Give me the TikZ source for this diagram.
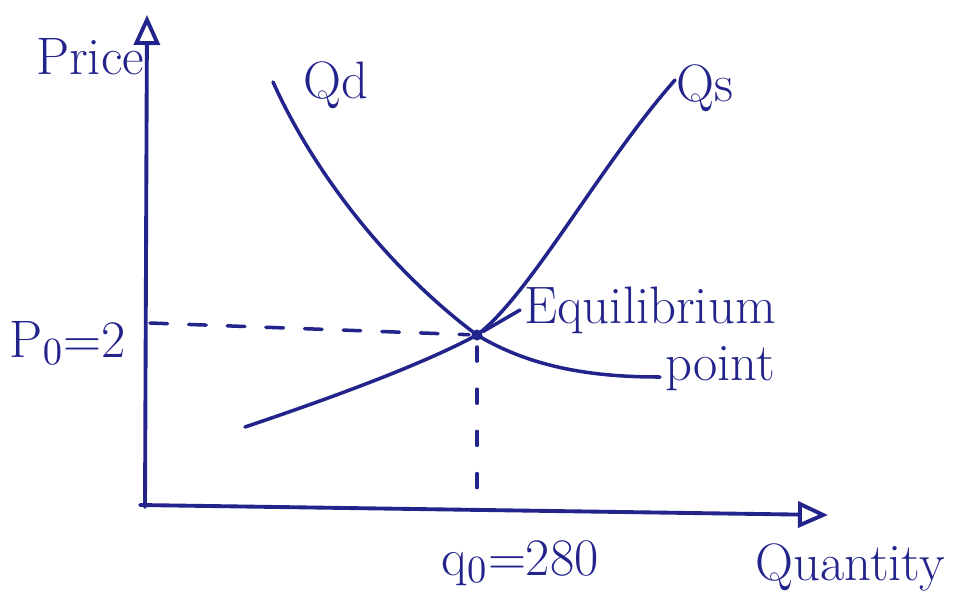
\documentclass[tikz,border=0pt]{standalone}
\usetikzlibrary{arrows.meta, positioning}
\definecolor{ink}{HTML}{23238C}

\tikzset{
  axis/.style={ink, line width=1.1pt, -{Triangle[open, length=3mm, width=2.6mm]}},
  curve/.style={ink, line width=1pt},
  guide/.style={ink, line width=1pt, dash pattern=on 5pt off 6pt},
  guidev/.style={ink, line width=1pt, dash pattern=on 4pt off 8pt},
  hand/.style={ink, font=\fontsize{15}{18}\selectfont, inner sep=1pt},
}

\begin{document}
\begin{tikzpicture}[line cap=round]
\useasboundingbox (0,0) rectangle (9.61,6.05);

% --- Axes ---
\coordinate (origin) at (1.45,1.00);
\coordinate (ytop) at (1.47,5.90);
\coordinate (xend) at (8.28,0.90);
\draw[axis] (1.45,0.98) -- (ytop);
\draw[axis] (1.40,1.00) -- (xend);

% Equilibrium point
\coordinate (eq) at (4.77,2.70);

% --- Demand and supply curves ---
\draw[curve] (2.73,5.23) .. controls (3.15,4.30) and (3.90,3.35) .. (eq)
  .. controls (5.35,2.35) and (6.00,2.28) .. (6.60,2.28);
\draw[curve] (2.45,1.78) .. controls (3.40,2.10) and (4.25,2.42) .. (eq)
  .. controls (5.30,3.10) and (6.00,4.40) .. (6.75,5.25);

\fill[ink] (eq) circle (0.055);

% Dashed guides to the axes
\draw[guide, shorten >=0.08cm] (1.50,2.82) -- (eq);
\draw[guidev, shorten <=0.12cm] (eq) -- (4.77,1.05);

% --- Labels ---
\node[hand] (price) at (0.90,5.48) {Price};
\node[hand] (qd) at (3.36,5.20) {Qd};
\node[hand] (qs) at (7.05,5.17) {Qs};
\node[hand] (pzero) at (0.68,2.62) {P$_0$=2};
\node[hand, anchor=west] (eqlabel) at (5.20,2.95) {Equilibrium};
\node[hand] (pointlabel) at (7.20,2.36) {point};
\draw[ink, line width=1pt, shorten >=0.07cm] (eqlabel.west) -- (eq);
\node[hand] (qzero) at (5.20,0.42) {q$_0$=280};
\node[hand] (quantity) at (8.50,0.38) {Quantity};

\end{tikzpicture}
\end{document}
